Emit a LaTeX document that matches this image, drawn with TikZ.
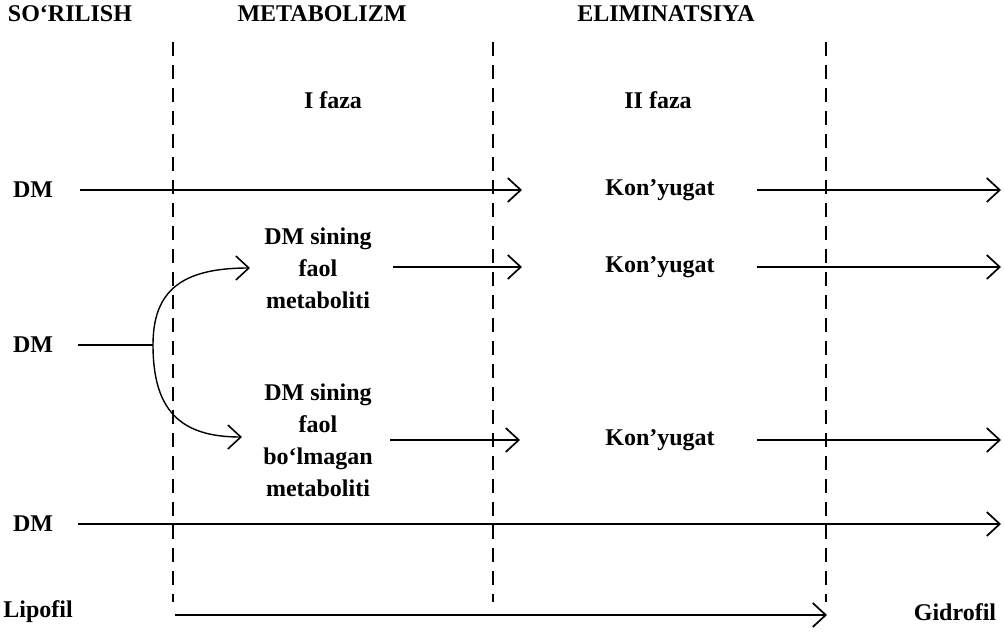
\documentclass[tikz,border=0pt]{standalone}
\usepackage{fontspec}
\setmainfont{Liberation Serif}
\usetikzlibrary{arrows.meta}
\begin{document}
\begin{tikzpicture}[x=1pt,y=-1pt,
  lbl/.style={font=\bfseries\fontsize{24}{32}\selectfont, inner sep=0pt, align=center},
  arr/.style={line width=1.7pt, -{Straight Barb[length=13pt,width=24pt,line width=1.7pt]}},
  thinarr/.style={line width=1.4pt, -{Straight Barb[length=13pt,width=24pt,line width=1.6pt]}},
  ln/.style={line width=1.7pt},
  sep/.style={line width=1.5pt, dash pattern=on 14pt off 9pt}]
\useasboundingbox[fill=white] (0,0) rectangle (1004,632);

% column headings
\node[lbl] (sor) at (70,14) {SO‘RILISH};
\node[lbl] (met) at (322,14) {METABOLIZM};
\node[lbl] (eli) at (666,14) {ELIMINATSIYA};
\node[lbl] (f1) at (333,100) {I faza};
\node[lbl] (f2) at (658,100) {II faza};

% phase separators
\coordinate (s1t) at (173,42); \coordinate (s1b) at (173,602);
\coordinate (s2t) at (493,42); \coordinate (s2b) at (493,602);
\coordinate (s3t) at (826,42); \coordinate (s3b) at (826,602);
\draw[sep] (s1t) -- (s1b);
\draw[sep] (s2t) -- (s2b);
\draw[sep] (s3t) -- (s3b);

% substances
\node[lbl] (dm1) at (33,190) {DM};
\node[lbl] (dm2) at (33,345) {DM};
\node[lbl] (dm3) at (33,524) {DM};
\node[lbl] (fm) at (318,268) {DM sining\\faol\\metaboliti};
\node[lbl] (nm) at (318,440) {DM sining\\faol\\bo‘lmagan\\metaboliti};
\node[lbl] (k1) at (660,190) {Kon’yugat};
\node[lbl] (k2) at (660,267) {Kon’yugat};
\node[lbl] (k3) at (660,440) {Kon’yugat};
\node[lbl] (lip) at (38,612) {Lipofil};
\node[lbl] (gid) at (955,612) {Gidrofil};

% arrow end points
\coordinate (r1a) at (80,190);  \coordinate (r1b) at (522,190);
\coordinate (r1c) at (757,190); \coordinate (r1d) at (1001,190);
\coordinate (r2a) at (393,267); \coordinate (r2b) at (522,267);
\coordinate (r2c) at (757,267); \coordinate (r2d) at (1001,267);
\coordinate (r3a) at (390,440); \coordinate (r3b) at (520,440);
\coordinate (r3c) at (757,440); \coordinate (r3d) at (1001,440);
\coordinate (mda) at (78,345);  \coordinate (br) at (153,345);
\coordinate (up) at (250,268);  \coordinate (dn) at (242,437);
\coordinate (r4a) at (78,524);  \coordinate (r4b) at (1001,524);
\coordinate (lpa) at (175,615); \coordinate (lpb) at (827,615);

% pathways
\draw[arr] (r1a) -- (r1b);
\draw[arr] (r1c) -- (r1d);
\draw[arr] (r2a) -- (r2b);
\draw[arr] (r2c) -- (r2d);
\draw[arr] (r3a) -- (r3b);
\draw[arr] (r3c) -- (r3d);
\draw[ln] (mda) -- (br);
\draw[thinarr] (br) .. controls (153,292) and (180,268) .. (up);
\draw[thinarr] (br) .. controls (153,410) and (180,437) .. (dn);
\draw[arr] (r4a) -- (r4b);
\draw[arr] (lpa) -- (lpb);
\end{tikzpicture}
\end{document}
